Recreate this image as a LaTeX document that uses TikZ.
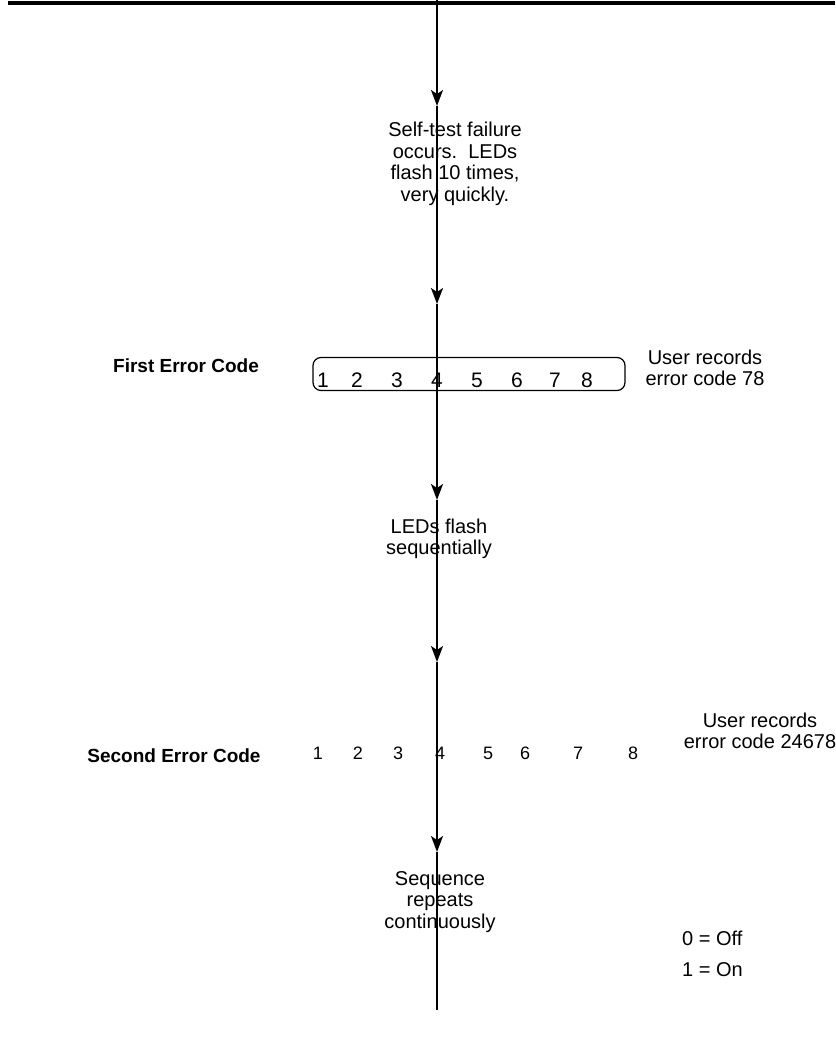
\documentclass[tikz,border=0pt]{standalone}
\usepackage{fontspec}
\setmainfont{Liberation Sans}
\usetikzlibrary{arrows.meta}
\tikzset{
	flow/.style={line width=2pt,-{Stealth[length=16pt,width=12pt,inset=4pt]}},
	note/.style={align=center,inner sep=0pt,font=\fontsize{20}{21.5}\selectfont},
	heading/.style={inner sep=0pt,font=\fontsize{19}{21}\selectfont\bfseries},
	digit/.style={inner sep=0pt,font=\fontsize{21}{21}\selectfont},
	smalldigit/.style={inner sep=0pt,font=\fontsize{18}{21}\selectfont}
}

\begin{document}
\begin{tikzpicture}[x=1pt,y=-1pt]
			\useasboundingbox (0,0) rectangle (835,1038);
			
			% Top rule
			\coordinate (ruleL) at (8,3);
			\coordinate (ruleR) at (835,3);
			\draw[line width=4pt] (ruleL) -- (ruleR);
			
			% Points along the main line
			\coordinate (top) at (437,0);
			\coordinate (tip1) at (437,106);
			\coordinate (tip2) at (437,304);
			\coordinate (tip3) at (437,500);
			\coordinate (tip4) at (437,662);
			\coordinate (tip5) at (437,852);
			\coordinate (bottom) at (437,1010);
			
			% Main line with arrows
			\draw[flow] (top) -- (tip1);
			\draw[flow] (tip1) -- (tip2);
			\draw[flow] (tip2) -- (tip3);
			\draw[flow] (tip3) -- (tip4);
			\draw[flow] (tip4) -- (tip5);
			\draw[line width=2pt] (tip5) -- (bottom);
			
			% Self-test text
			\node[note] (selftest) at (455,164) {Self-test failure\\occurs.\ \ LEDs\\flash 10 times,\\very quickly.};
			
			% First error code
			\node[heading] (firstlabel) at (186,366) {First Error Code};
			\node[draw,line width=1.2pt,rounded corners=8pt,minimum width=312pt,minimum height=33pt] (firstbox) at (469,374) {};
			\foreach \x [count=\i] in {323,357,397,437,477,517,555,587}
				\node[digit] (first\i) at (\x,380) {\i};
			\node[note] (firstrec) at (705,368) {User records\\error code 78};
			
			% Sequential flash text
			\node[note] (sequential) at (439,539) {LEDs flash\\sequentially};
			
			% Second error code
			\node[heading] (secondlabel) at (174,756) {Second Error Code};
			\foreach \x [count=\i] in {318,358,398,440,488,525,578,633}
				\node[smalldigit] (second\i) at (\x,753) {\i};
			\node[note] (secondrec) at (760,731) {User records\\error code 24678};
			
			% Repeat text
			\node[note] (repeat) at (440,902) {Sequence\\repeats\\continuously};
			
			% Legend
			\node[note,anchor=west] (legendoff) at (682,938) {0 = Off};
			\node[note,anchor=west] (legendon) at (682,970) {1 = On};
			
		\end{tikzpicture}
\end{document}
